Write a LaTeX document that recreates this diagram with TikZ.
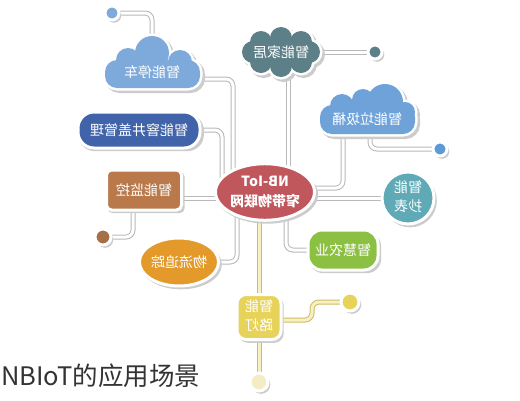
\documentclass[tikz,border=0pt]{standalone}
\usepackage{fontspec}
\usepackage{graphicx}
\setmainfont{Noto Sans CJK SC}
\usetikzlibrary{shapes.geometric,shadows,calc}
\definecolor{cpark}{HTML}{7DA9DB}
\definecolor{chome}{HTML}{5D8088}
\definecolor{ctrash}{HTML}{6EA2D9}
\definecolor{cblue}{HTML}{4163A9}
\definecolor{cbrown}{HTML}{B9794B}
\definecolor{cred}{HTML}{C0575C}
\definecolor{cteal}{HTML}{5FAAB6}
\definecolor{corange}{HTML}{E49A2B}
\definecolor{cgreen}{HTML}{8CC043}
\definecolor{cyellow}{HTML}{E7D35A}
\definecolor{ctc}{HTML}{5B9AD6}
\definecolor{cmc}{HTML}{A66F47}
\definecolor{clb}{HTML}{F4EDC3}
\pgfdeclarelayer{bg}
\pgfdeclarelayer{conns}
\pgfdeclarelayer{shapes}
\pgfsetlayers{bg,conns,shapes,main}
\newcommand{\drawcloud}[2]{%
  \foreach \p in {#1} {\fill[gray!40, shift={(2.5,2.5)}] \p; \draw[gray!40, line width=5pt, shift={(2.5,2.5)}] \p;}
  \foreach \p in {#1} {\draw[white, line width=5pt] \p;}
  \foreach \p in {#1} {\fill[#2] \p;}
}
\tikzset{
  conn/.style={draw=gray!55, double=white, double distance=3pt, line width=1pt, rounded corners=7pt},
  yconn/.style={conn, draw=cyellow!75!gray, double=cyellow!35!white},
  ring/.style={draw=white, line width=3pt,
    drop shadow={fill=gray!40, opacity=1, shadow xshift=2pt, shadow yshift=-2.5pt, shadow scale=1.03}},
  lbl/.style={text=white, font=\fontsize{14}{19}\selectfont, inner sep=0pt, align=center},
}
\begin{document}
\begin{tikzpicture}[x=1pt,y=-1pt]
\useasboundingbox (0,0) rectangle (520,400);
\begin{pgfonlayer}{bg}
  \fill[white] (0,0) rectangle (520,400);
\end{pgfonlayer}

% main nodes
\node[ring, ellipse, fill=cred, minimum width=98pt, minimum height=52pt, lbl,
      font=\bfseries\fontsize{14}{20}\selectfont] (center) at (265,192)
      {\reflectbox{\begin{tabular}{@{}c@{}}NB-IoT\\窄带物联网\end{tabular}}};
\node[lbl] (park) at (152,72) {\reflectbox{智能停车}};
\node[lbl] (home) at (281,52) {\reflectbox{智能家居}};
\node[lbl] (trash) at (367,119) {\reflectbox{智能垃圾桶}};
\node[ring, rounded corners=16pt, fill=cblue, minimum width=122pt, minimum height=36pt, lbl] (manhole) at (139,130) {\reflectbox{智能窨井盖管理}};
\node[ring, rounded corners=5pt, fill=cbrown, minimum width=75pt, minimum height=40pt, lbl] (monitor) at (144,190) {\reflectbox{智能监控}};
\node[ring, circle, fill=cteal, minimum size=52pt, lbl] (meter) at (408,198)
      {\reflectbox{\begin{tabular}{@{}c@{}}智能\\抄表\end{tabular}}};
\node[ring, ellipse, fill=corange, minimum width=74pt, minimum height=48pt, lbl] (logi) at (179,262) {\reflectbox{物流追踪}};
\node[ring, rounded corners=14pt, fill=cgreen, minimum width=70pt, minimum height=40pt, lbl] (agri) at (343,250) {\reflectbox{智慧农业}};
\node[ring, rounded corners=9pt, fill=cyellow, minimum width=44pt, minimum height=45pt, lbl] (lamp) at (259,317)
      {\reflectbox{\begin{tabular}{@{}c@{}}智能\\路灯\end{tabular}}};

% small circles
\node[ring, circle, fill=cpark, minimum size=14pt, inner sep=0pt] (pc) at (112,13) {};
\node[ring, circle, fill=chome, minimum size=14pt, inner sep=0pt] (hc) at (375,52) {};
\node[ring, circle, fill=ctc, minimum size=14pt, inner sep=0pt] (tc) at (440,149) {};
\node[ring, circle, fill=cmc, minimum size=16pt, inner sep=0pt] (mc) at (103,237) {};
\node[ring, circle, fill=cyellow, minimum size=18pt, inner sep=0pt] (lc) at (350,302) {};
\node[ring, circle, fill=clb, minimum size=18pt, inner sep=0pt] (lb) at (259,382) {};

% caption
\node[anchor=west, font=\fontsize{25.5}{28}\selectfont, text=black!80, inner sep=0pt] (cap) at (1,376) {NBIoT的应用场景};

% clouds
\begin{pgfonlayer}{shapes}
  \drawcloud{{[rounded corners=12pt] (105,60) rectangle (200,88)},{(128,60) circle[radius=12]},{(152,53) circle[radius=17]},{(180,62) circle[radius=12]}}{cpark}
  \drawcloud{{(281,52) ellipse[x radius=28, y radius=14]},{(309,52) circle[radius=11]},{(301,42) circle[radius=11]},{(281,38) circle[radius=11]},{(261,42) circle[radius=11]},{(253,52) circle[radius=11]},{(261,62) circle[radius=11]},{(281,66) circle[radius=11]},{(301,62) circle[radius=11]}}{chome}
  \drawcloud{{[rounded corners=12pt] (320,105) rectangle (415,134)},{(342,106) circle[radius=12]},{(363,100) circle[radius=11]},{(385,102) circle[radius=18]},{(405,112) circle[radius=10]}}{ctrash}
\end{pgfonlayer}

% connectors
\begin{pgfonlayer}{conns}
  \draw[conn] (pc.center) -| (park.center);
  \draw[conn] ([yshift=-7pt]park.center) -| ([xshift=-32pt]center.center);
  \draw[conn] (manhole.center) -| ([xshift=-43pt]center.center);
  \draw[conn] ([xshift=7pt]home.center) -- ([xshift=7pt]home.center |- center.center);
  \draw[conn] (home.center) -- (hc.center);
  \draw[conn] ([xshift=-24pt]trash.center) |- ([yshift=4pt]center.center);
  \draw[conn] ([xshift=3pt]trash.center) |- (tc.center);
  \draw[conn] ([yshift=-8pt]monitor.center) -- ([yshift=-6pt]center.center);
  \draw[conn] ([xshift=-11pt]monitor.center) |- (mc.center);
  \draw[conn] ([yshift=-6pt]center.center) -- (meter.center);
  \draw[conn] (logi.center) -| ([xshift=-28pt]center.center);
  \draw[conn] ([xshift=21pt]center.center) |- (agri.center);
  \draw[yconn] (lamp.center |- center.center) -- (lb.center);
  \draw[yconn] ([yshift=-3pt]lamp.center) -- ([xshift=53pt,yshift=-3pt]lamp.center) |- (lc.center);
\end{pgfonlayer}
\end{tikzpicture}
\end{document}
